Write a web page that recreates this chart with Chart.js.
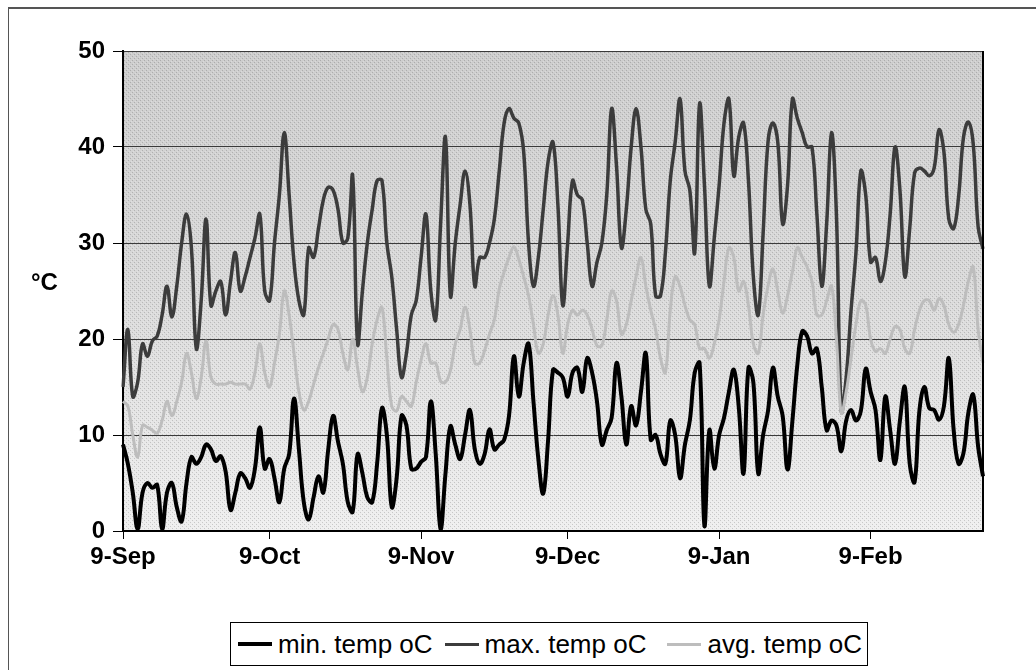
<!DOCTYPE html>
<html>
<head>
<meta charset="utf-8">
<script src="https://cdn.jsdelivr.net/npm/chart.js@4.4.1/dist/chart.umd.min.js"></script>
<style>
  html, body { margin: 0; padding: 0; background: #fff; }
  #wrap { position: relative; width: 1036px; height: 670px; overflow: hidden; }
  #frame { position: absolute; left: 8px; top: 7px; width: 1100px; height: 700px;
           border-left: 1px solid #555; border-top: 2px solid #555; }
  canvas { position: absolute; left: 0; top: 0; }
  #unit { position: absolute; left: 31px; top: 268px; font: bold 24px "Liberation Sans", Arial, sans-serif; color: #000; }
  #legend { position: absolute; left: 230px; top: 622px; width: 638px; height: 44px;
            border: 1px solid #000; background: #fff; box-sizing: border-box;
            display: flex; align-items: center; padding-left: 7px;
            font: 26px "Liberation Sans", Arial, sans-serif; color: #000; }
  .item { display: flex; align-items: center; }
  .key { display: inline-block; width: 34px; margin-right: 6px; }
</style>
</head>
<body>
<div id="wrap">
  <div id="frame"></div>
  <canvas id="tempChart" width="1036" height="670"></canvas>
  <div id="unit">°C</div>
  <div id="legend"></div>
</div>
<script>
// daily readings, 9 Sep .. 3 Mar
const startDate = new Date(2001, 8, 9);
const dayCount = 177;
const monthNames = ['Jan', 'Feb', 'Mar', 'Apr', 'May', 'Jun', 'Jul', 'Aug', 'Sep', 'Oct', 'Nov', 'Dec'];

const seriesNames = ['min. temp oC', 'max. temp oC', 'avg. temp oC'];

const minTemp = [
  9, 7, 4, 0.2, 4, 5, 4.5, 4.8, 0.2, 4,
  5, 2.5, 1, 5, 7.7, 7, 7.7, 9, 8.5, 7.3,
  7.8, 6.2, 2.2, 4, 6, 5.5, 4.5, 6.5, 10.8, 6.5,
  7.5, 5.5, 3, 6.5, 8, 13.8, 8.5, 3, 1.2, 3.5,
  5.7, 4, 8.5, 12, 9.3, 7, 3, 2, 8, 6,
  3.5, 3, 7, 12.8, 10, 2.5, 5.5, 12, 11, 6.5,
  6.5, 7.2, 7.7, 13.5, 8, 0.2, 6, 10.9, 9, 7.5,
  10, 12.6, 8.5, 7, 8, 10.6, 8.5, 9, 9.5, 12,
  18.2, 14, 17.5, 19.5, 13.5, 7.5, 3.9, 9.5, 16.8, 16.5,
  16, 14, 16.5, 17, 14.5, 18, 16.5, 13.5, 9, 10.5,
  11.8, 17.5, 14, 9, 13, 11, 14.5, 18.5, 9.5, 10,
  8, 7, 11.5, 10, 5.5, 9, 11.5, 16.5, 17.5, 0.5,
  10.5, 6.5, 10, 11.8, 14.5, 16.8, 13, 6, 17, 15.5,
  6, 10, 12.5, 17, 14, 12, 6.4, 11.5, 17.3, 20.8,
  20.3, 18.5, 19, 15, 10.5, 11.5, 11, 8.3, 11.5, 12.6,
  11.5, 12.5, 16.9, 14.5, 12.6, 7.4, 14, 10.5, 7, 11.5,
  15, 7, 5.1, 12.6, 15, 12.8, 12.6, 11.6, 13, 18,
  10.5, 7, 8.1, 12.3, 14.2, 8.8, 5.7
];

const maxTemp = [
  15, 21, 14, 15.5, 19.5, 18.2, 19.8, 20.3, 22.5, 25.5,
  22.3, 25.5, 30, 33, 29.5, 19, 24, 32.5, 23.5, 25,
  26, 22.5, 26, 29, 25, 26.5, 28.5, 30.5, 33, 25,
  24, 30, 35, 41.5, 35, 28, 24, 22.5, 29.5, 28.5,
  31.5, 34.5, 35.8, 35.5, 33.5, 30, 30.5, 37, 19.5, 25,
  30, 33.5, 36.5, 36.5, 30, 26.5, 21, 16, 18.5, 22.5,
  24, 28.5, 33, 25, 22, 32, 41, 24.5, 30, 34,
  37.5, 34, 25.5, 28.5, 28.5, 30, 32.5, 37.5, 42.5, 44,
  43, 42.5, 39.5, 30, 25.5, 28.5, 33.5, 38.5, 40.5, 34,
  23.5, 30, 36.5, 35, 34.5, 30, 25.5, 28, 30, 35,
  44, 38, 29.5, 33.5, 40, 44, 40, 33.5, 32, 24.5,
  24.5, 29, 36.5, 40.5, 45, 37.5, 35.5, 29, 44.5, 36,
  25.5, 30.5, 36, 42.5, 45, 37, 41, 42.5, 36.5, 26.5,
  22.5, 31, 40.5, 42.5, 40.5, 32, 36, 45, 43, 41.5,
  40, 40, 33, 25.5, 32, 41.5, 33, 12.5, 16, 23,
  29, 37.5, 35, 28, 28.5, 26, 28, 33, 40, 35.5,
  26.5, 31.5, 37.3, 37.8, 37.5, 37, 37.8, 41.8, 39.5, 32.5,
  31.5, 34.8, 41, 42.6, 40.3, 31.7, 29.4
];

const avgTemp = [
  13.5, 13, 10, 7.7, 11, 10.8, 10.5, 10.2, 11.5, 13.5,
  12, 13.5, 15.5, 18.5, 16.5, 13.8, 16, 19.8, 16, 15.3,
  15.3, 15.3, 15.5, 15.3, 15.3, 15.3, 14.8, 16.5, 19.5, 16.5,
  15, 17.5, 20.5, 25, 22.5, 18.5, 14.5, 12.6, 13.5, 15.3,
  17, 18.5, 20, 21.5, 21, 18.5, 16.8, 20, 17, 14.5,
  16, 19.5, 22, 23.3, 18, 13, 12.5, 14, 13.5, 13,
  15.5, 17.8, 19.5, 17.5, 17.5, 15.6, 15.5, 16.7, 19.5, 21,
  23.3, 21, 17.5, 17.5, 18.8, 20.5, 22, 25.2, 27, 28.5,
  29.6, 28.3, 26.5, 24.5, 21.5, 18.5, 19.5, 22.5, 24.5, 22.5,
  18.5, 21.5, 23, 22.5, 23, 22.5, 21, 19.3, 19.3, 22,
  25, 24, 20.5, 21.5, 24, 26.5, 28.5, 25.5, 23, 21,
  18, 16.5, 23, 26.5, 25.5, 23.5, 22, 21.5, 19, 19,
  18, 19.5, 22, 26, 29.5, 28.5, 25, 26, 23.5, 19.5,
  18.5, 22.5, 25.5, 27.3, 25, 22.7, 24.5, 27, 29.5, 28.5,
  27.5, 26, 22.5, 22.5, 24, 25.5, 20, 12.3, 14.5, 18,
  21.5, 24, 23.5, 20, 18.7, 19, 18.5, 20, 21.3, 21,
  19, 18.5, 21, 23, 24, 24, 23, 24.2, 23.5, 21.5,
  20.7, 21.5, 23.5, 26, 27.5, 21, 17.5
];

const yTicks = [0, 10, 20, 30, 40, 50];
const lineColors = ['#000000', '#3c3c3c', '#bdbdbd'];
const lineWidths = [4, 3.5, 3];

// day labels like 9-Sep
const dayLabels = [];
for (let i = 0; i < dayCount; i++) {
  const d = new Date(startDate.getFullYear(), startDate.getMonth(), startDate.getDate() + i);
  dayLabels.push(d.getDate() + '-' + monthNames[d.getMonth()]);
}

const axisFont = { family: '"Liberation Sans", Arial, sans-serif', size: 24, weight: 'bold' };

// small dotted tile, gives the scanned stipple look
function makeStipple(ctx) {
  const tile = document.createElement('canvas');
  tile.width = 4; tile.height = 4;
  const t = tile.getContext('2d');
  t.fillStyle = 'rgba(0,0,0,0.16)';
  t.fillRect(0, 0, 1, 1);
  t.fillRect(2, 2, 1, 1);
  t.fillStyle = 'rgba(255,255,255,0.25)';
  t.fillRect(1, 3, 1, 1);
  t.fillRect(3, 1, 1, 1);
  return ctx.createPattern(tile, 'repeat');
}

// shaded plot area + right border
const plotFrame = {
  id: 'plotFrame',
  beforeDraw(chart) {
    const { ctx, chartArea: a } = chart;
    const g = ctx.createLinearGradient(0, a.top, 0, a.bottom);
    g.addColorStop(0, '#cdcdcd');
    g.addColorStop(0.5, '#dadada');
    g.addColorStop(1, '#efefef');
    ctx.save();
    ctx.fillStyle = g;
    ctx.fillRect(a.left, a.top, a.right - a.left, a.bottom - a.top);
    ctx.fillStyle = makeStipple(ctx);
    ctx.fillRect(a.left, a.top, a.right - a.left, a.bottom - a.top);
    ctx.restore();
  },
  afterDraw(chart) {
    const { ctx, chartArea: a } = chart;
    ctx.save();
    ctx.strokeStyle = '#000';
    ctx.lineWidth = 2;
    ctx.beginPath();
    ctx.moveTo(a.right, a.top);
    ctx.lineTo(a.right, a.bottom);
    ctx.stroke();
    ctx.restore();
  }
};

const datasets = [minTemp, maxTemp, avgTemp].map((vals, i) => ({
  label: seriesNames[i],
  data: vals,
  borderColor: lineColors[i],
  borderWidth: lineWidths[i],
  pointRadius: 0,
  tension: 0.4,
  fill: false,
  order: 3 - i
}));

const ctx = document.getElementById('tempChart').getContext('2d');
const chart = new Chart(ctx, {
  type: 'line',
  data: { labels: dayLabels, datasets: datasets },
  options: {
    responsive: false,
    animation: false,
    layout: { padding: { top: 51, right: 53, bottom: 89, left: 0 } },
    plugins: { legend: { display: false }, tooltip: { enabled: false } },
    scales: {
      x: {
        type: 'category',
        offset: false,
        afterBuildTicks: (scale) => {
          scale.ticks = scale.ticks.filter(t => dayLabels[t.value].startsWith('9-'));
        },
        afterFit: (scale) => { scale.height = 50; },
        ticks: { autoSkip: false, maxRotation: 0, minRotation: 0, color: '#000', font: axisFont, padding: 4 },
        grid: { drawOnChartArea: false, drawTicks: true, tickLength: 8, color: '#000', lineWidth: 1 },
        border: { display: true, color: '#000', width: 2 }
      },
      y: {
        min: 0,
        max: 50,
        afterBuildTicks: (scale) => { scale.ticks = yTicks.map(v => ({ value: v })); },
        afterFit: (scale) => { scale.width = 123; },
        ticks: { color: '#000', font: axisFont, padding: 8 },
        grid: { color: '#3a3a3a', lineWidth: 1, tickLength: 10, tickColor: '#000' },
        border: { display: true, color: '#000', width: 2 }
      }
    }
  },
  plugins: [plotFrame]
});

// legend box
const legendBox = document.getElementById('legend');
const itemGaps = [0, 12, 21];
seriesNames.forEach((name, i) => {
  const item = document.createElement('span');
  item.className = 'item';
  item.style.marginLeft = itemGaps[i] + 'px';
  const key = document.createElement('span');
  key.className = 'key';
  key.style.borderTop = lineWidths[i] + 'px solid ' + lineColors[i];
  item.appendChild(key);
  item.appendChild(document.createTextNode(name));
  legendBox.appendChild(item);
});
</script>
</body>
</html>
